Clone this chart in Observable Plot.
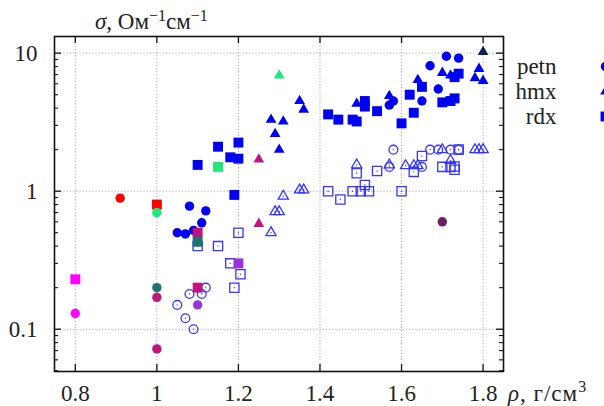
<!DOCTYPE html>
<html><head><meta charset="utf-8">
<script src="https://cdn.jsdelivr.net/npm/d3@7"></script>
<script src="https://cdn.jsdelivr.net/npm/@observablehq/plot@0.6"></script>
<style>html,body{margin:0;padding:0;background:#fff;overflow:hidden}
svg text{font-family:"Liberation Serif","DejaVu Serif","Times New Roman",serif !important}</style>
</head><body><div id="chart"></div>
<script>
// ---- tick values and labels ----
const xTicks = [0.8, 1.0, 1.2, 1.4, 1.6, 1.8];
const xTickLabels = ["0.8", "1", "1.2", "1.4", "1.6", "1.8"];
const yTicks = [0.1, 1, 10];
const yTickLabels = ["0.1", "1", "10"];
const yMinorTicks = [0.05, 0.06, 0.07, 0.08, 0.09, 0.2, 0.3, 0.4, 0.5, 0.6, 0.7, 0.8, 0.9, 2, 3, 4, 5, 6, 7, 8, 9];
const seriesNames = ["petn", "hmx", "rdx"];

// ---- data: [density g/cm3, conductivity Ohm^-1 cm^-1] ----
const petnSolid = [[1.08,0.78],[1.12,0.72],[1.11,0.59],[1.05,0.50],[1.07,0.49],[1.09,0.52],
  [1.57,4.2],[1.58,4.5],[1.65,4.5],[1.69,5.5],[1.67,8.1],[1.71,9.5],[1.74,9.2]];
const petnOpen = [[1.12,0.20],[1.08,0.18],[1.11,0.18],[1.05,0.15],[1.07,0.12],[1.09,0.10],
  [1.58,2.0],[1.57,1.5],[1.65,1.5],[1.67,2.0],[1.69,2.0],[1.72,2.0],[1.74,2.0]];
const hmxSolid = [[1.28,3.3],[1.31,3.2],[1.29,2.6],[1.30,2.0],[1.35,4.5],[1.36,3.9],[1.49,4.3],
  [1.57,4.9],[1.64,6.4],[1.70,7.2],[1.72,6.9],[1.78,6.6],[1.79,7.7],[1.80,6.3]];
const hmxOpen = [[1.28,0.50],[1.29,0.71],[1.30,0.71],[1.31,0.92],[1.35,1.02],[1.36,1.02],[1.49,1.55],
  [1.57,1.55],[1.61,1.53],[1.63,1.53],[1.64,1.53],[1.70,2.0],[1.72,1.67],[1.78,2.0],[1.79,2.0],[1.80,2.0]];
const rdxSolid = [[1.10,1.55],[1.15,2.1],[1.20,2.25],[1.18,1.76],[1.20,1.72],[1.19,0.94],[1.42,3.6],
  [1.445,3.3],[1.48,3.3],[1.49,3.2],[1.51,4.5],[1.51,4.1],[1.54,3.8],[1.60,3.1],[1.63,3.7],[1.62,5.0],
  [1.65,5.7],[1.70,4.4],[1.72,4.5],[1.73,4.7],[1.73,6.7],[1.74,7.1]];
const rdxOpen = [[1.10,0.40],[1.15,0.40],[1.20,0.50],[1.18,0.30],[1.205,0.25],[1.19,0.20],[1.42,1.0],
  [1.45,0.87],[1.48,1.0],[1.50,1.0],[1.52,1.0],[1.51,1.11],[1.60,1.0],[1.49,1.35],[1.54,1.4],[1.63,1.38],
  [1.65,1.8],[1.70,1.5],[1.72,1.5],[1.73,1.51],[1.73,1.43],[1.74,2.0]];
// other sources: [x, y, source key]
const petnOther = [[0.91,0.89,"a"],[1.0,0.70,"b"],[1.0,0.20,"e"],[1.0,0.17,"d"],[1.0,0.072,"d"],
  [0.8,0.13,"c"],[1.10,0.15,"f"],[1.70,0.60,"g"]];
const hmxOther = [[1.30,6.9,"b"],[1.25,1.7,"d"],[1.25,0.58,"d"],[1.80,10.2,"h"]];
const rdxOther = [[1.0,0.80,"a"],[1.15,1.5,"b"],[0.8,0.23,"c"],[1.10,0.50,"d"],[1.10,0.43,"e"],
  [1.10,0.20,"d"],[1.20,0.30,"f"]];

// ---- styles ----
const sourceColor = {a:"#ff0000", b:"#1ee87a", c:"#ff00ff", d:"#c0157d", e:"#1f7272", f:"#9933dd", g:"#6b1f63", h:"#0c1f5a"};
const shapeOf = {petn:"circle", hmx:"triangle", rdx:"square"};
const solidR = {circle:4.7, triangle:4.0, square:5.6};
const openR = {circle:4.4, triangle:3.8, square:5.2};
const blue = "#0000f2", openBlue = "#3535ff";
const W = 604, H = 406, mL = 54, mR = 101, mT = 36, mB = 35;
const fw = W - mL - mR, fh = H - mT - mB;
const font = "Liberation Serif";

function solid(data, name, fillFn) {
  const s = shapeOf[name];
  return Plot.dot(data, {x: d => d[0], y: d => d[1], symbol: s, r: solidR[s], fill: fillFn || blue, stroke: "none"});
}
function open(data, name) {
  const s = shapeOf[name];
  return [
    Plot.dot(data, {x: d => d[0], y: d => d[1], symbol: s, r: openR[s], fill: "none", stroke: openBlue, strokeWidth: 1.3}),
    Plot.dot(data, {x: d => d[0], y: d => d[1], r: 0.7, fill: openBlue})
  ];
}

const svg = Plot.plot({
  width: W, height: H,
  marginLeft: mL, marginRight: mR, marginTop: mT, marginBottom: mB,
  style: {fontFamily: font, background: "#fff", overflow: "visible"},
  x: {domain: [0.749, 1.85], axis: null},
  y: {type: "log", domain: [0.0494, 13.2], axis: null},
  marks: [
    Plot.ruleX(xTicks, {x: d => d, stroke: "#9a9a9a", strokeWidth: 1, strokeDasharray: "1,2.2"}),
    Plot.ruleY(yTicks, {y: d => d, stroke: "#9a9a9a", strokeWidth: 1, strokeDasharray: "1,2.2"}),
    // inward ticks
    Plot.ruleX(xTicks, {x: d => d, insetTop: fh - 7, stroke: "#111", strokeWidth: 1.3}),
    Plot.ruleX(xTicks, {x: d => d, insetBottom: fh - 7, stroke: "#111", strokeWidth: 1.3}),
    Plot.ruleY(yTicks, {y: d => d, insetRight: fw - 7, stroke: "#111", strokeWidth: 1.3}),
    Plot.ruleY(yTicks, {y: d => d, insetLeft: fw - 7, stroke: "#111", strokeWidth: 1.3}),
    Plot.ruleY(yMinorTicks, {y: d => d, insetRight: fw - 4, stroke: "#111", strokeWidth: 1.1}),
    Plot.ruleY(yMinorTicks, {y: d => d, insetLeft: fw - 4, stroke: "#111", strokeWidth: 1.1}),
    Plot.axisX(xTicks, {anchor: "bottom", tickSize: 0, tickPadding: 13, fontSize: 23, fill: "#222",
      tickFormat: d => xTickLabels[xTicks.indexOf(d)], label: null}),
    Plot.axisY(yTicks, {anchor: "left", tickSize: 0, tickPadding: 17, fontSize: 23, fill: "#222",
      tickFormat: d => yTickLabels[yTicks.indexOf(d)], label: null}),
    // data
    solid(rdxSolid, "rdx"), solid(hmxSolid, "hmx"), solid(petnSolid, "petn"),
    open(rdxOpen, "rdx"), open(hmxOpen, "hmx"), open(petnOpen, "petn"),
    solid(rdxOther, "rdx", d => sourceColor[d[2]]),
    solid(hmxOther, "hmx", d => sourceColor[d[2]]),
    solid(petnOther, "petn", d => sourceColor[d[2]]),
    // legend
    ...seriesNames.map((name, i) => Plot.text([name], {text: d => d, frameAnchor: "top-right", textAnchor: "end",
      lineAnchor: "middle", dx: 53, dy: 30 + 25 * i, fontSize: 23, fill: "#222"})),
    ...seriesNames.map((name, i) => Plot.dot([name], {frameAnchor: "top-right", dx: 102, dy: 30 + 25 * i,
      symbol: shapeOf[name], r: solidR[shapeOf[name]], fill: blue})),
    Plot.frame({stroke: "#111", strokeWidth: 1.6})
  ]
});

const s = d3.select(svg);
const title = s.append("text").attr("x", 95).attr("y", 29).attr("font-size", 23)
  .attr("text-anchor", "start").attr("fill", "#222");
title.append("tspan").attr("font-style", "italic").text("σ");
title.append("tspan").text(", Ом");
title.append("tspan").attr("dy", -8).attr("font-size", 16).text("−1");
title.append("tspan").attr("dy", 8).text("см");
title.append("tspan").attr("dy", -8).attr("font-size", 16).text("−1");

const xl = s.append("text").attr("x", 508).attr("y", 400.5).attr("font-size", 23)
  .attr("text-anchor", "start").attr("fill", "#222").attr("letter-spacing", 1);
xl.append("tspan").attr("font-style", "italic").text("ρ");
xl.append("tspan").text(", г/см");
xl.append("tspan").attr("dy", -9).attr("font-size", 16).text("3");

document.getElementById("chart").appendChild(svg);
</script></body></html>
